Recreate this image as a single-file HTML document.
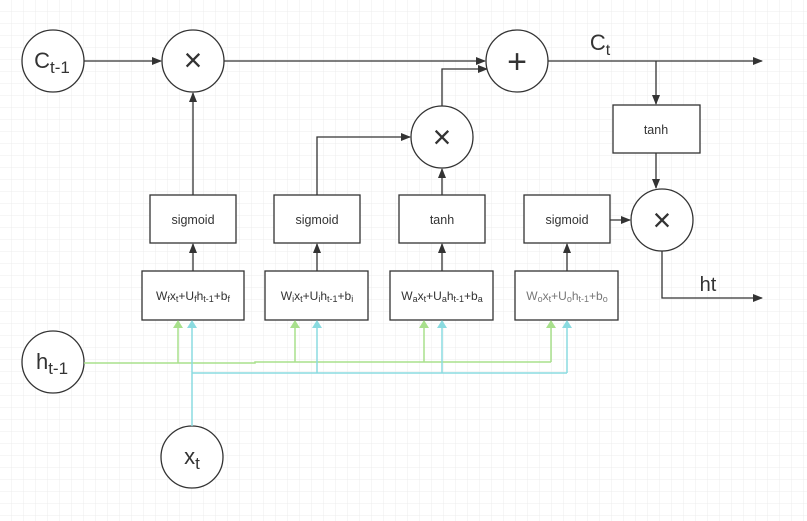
<!DOCTYPE html>
<html><head><meta charset="utf-8"><style>
body{margin:0;background:#fff;}
svg{display:block;font-family:"Liberation Sans",sans-serif;}
</style></head><body>
<svg width="807" height="521" viewBox="0 0 807 521">
<defs>
<pattern id="g" width="12" height="12" patternUnits="userSpaceOnUse"><path d="M12 0V12H0" fill="none" stroke="#ececec" stroke-width="1"/></pattern>
<marker id="a" markerWidth="10" markerHeight="8" refX="9" refY="4" orient="auto" markerUnits="userSpaceOnUse"><path d="M0 0L10 4L0 8z" fill="#333"/></marker>
<marker id="ag" markerWidth="8" markerHeight="10" refX="7" refY="5" orient="auto" markerUnits="userSpaceOnUse"><path d="M0 0L8 5L0 10z" fill="#a8e08c"/></marker>
<marker id="ac" markerWidth="8" markerHeight="10" refX="7" refY="5" orient="auto" markerUnits="userSpaceOnUse"><path d="M0 0L8 5L0 10z" fill="#8adbe0"/></marker>
</defs>
<rect width="807" height="521" fill="url(#g)"/>
<g fill="none" stroke="#333" stroke-width="1.3">
<line x1="84" y1="61" x2="161" y2="61" marker-end="url(#a)"/>
<line x1="224" y1="61" x2="485" y2="61" marker-end="url(#a)"/>
<line x1="548" y1="61" x2="762" y2="61" marker-end="url(#a)"/>
<line x1="656" y1="61" x2="656" y2="104" marker-end="url(#a)"/>
<line x1="656" y1="153" x2="656" y2="188" marker-end="url(#a)"/>
<polyline points="662,251 662,298 762,298" marker-end="url(#a)"/>
<line x1="193" y1="195" x2="193" y2="93" marker-end="url(#a)"/>
<polyline points="317,195 317,137 410,137" marker-end="url(#a)"/>
<line x1="442" y1="195" x2="442" y2="169" marker-end="url(#a)"/>
<polyline points="442,106 442,69 487,69" marker-end="url(#a)"/>
<line x1="610" y1="220" x2="630" y2="220" marker-end="url(#a)"/>
<line x1="193" y1="271" x2="193" y2="244" marker-end="url(#a)"/>
<line x1="317" y1="271" x2="317" y2="244" marker-end="url(#a)"/>
<line x1="442" y1="271" x2="442" y2="244" marker-end="url(#a)"/>
<line x1="567" y1="271" x2="567" y2="244" marker-end="url(#a)"/>
</g>
<g fill="#fff" stroke="#333" stroke-width="1.3">
<circle cx="53" cy="61" r="31"/><circle cx="193" cy="61" r="31"/><circle cx="517" cy="61" r="31"/>
<circle cx="442" cy="137" r="31"/><circle cx="662" cy="220" r="31"/>
<circle cx="53" cy="362" r="31"/><circle cx="192" cy="457" r="31"/>
<rect x="150" y="195" width="86" height="48"/><rect x="274" y="195" width="86" height="48"/>
<rect x="399" y="195" width="86" height="48"/><rect x="524" y="195" width="86" height="48"/>
<rect x="613" y="105" width="87" height="48"/>
<rect x="142" y="271" width="102" height="49"/><rect x="265" y="271" width="103" height="49"/>
<rect x="390" y="271" width="103" height="49"/><rect x="515" y="271" width="103" height="49"/>
</g>
<g fill="none" stroke-width="1.5">
<polyline points="84,363 255,363 255,362 551,362" stroke="#a8e08c"/>
<line x1="178" y1="363" x2="178" y2="321" stroke="#a8e08c" marker-end="url(#ag)"/>
<line x1="295" y1="362" x2="295" y2="321" stroke="#a8e08c" marker-end="url(#ag)"/>
<line x1="424" y1="362" x2="424" y2="321" stroke="#a8e08c" marker-end="url(#ag)"/>
<line x1="551" y1="362" x2="551" y2="321" stroke="#a8e08c" marker-end="url(#ag)"/>
<line x1="192" y1="426" x2="192" y2="321" stroke="#8adbe0" marker-end="url(#ac)"/>
<polyline points="192,373 567,373" stroke="#8adbe0"/>
<line x1="317" y1="373" x2="317" y2="321" stroke="#8adbe0" marker-end="url(#ac)"/>
<line x1="442" y1="373" x2="442" y2="321" stroke="#8adbe0" marker-end="url(#ac)"/>
<line x1="567" y1="373" x2="567" y2="321" stroke="#8adbe0" marker-end="url(#ac)"/>
</g>
<g fill="#333" text-anchor="middle">
<text x="52" y="68" font-size="22">C<tspan font-size="17" dy="5">t-1</tspan></text>
<text x="52" y="369" font-size="22">h<tspan font-size="17" dy="5">t-1</tspan></text>
<text x="192" y="464" font-size="22">x<tspan font-size="17" dy="5">t</tspan></text>
<text x="193" y="71" font-size="32">×</text>
<text x="442" y="148" font-size="32">×</text>
<text x="662" y="231" font-size="32">×</text>
<text x="517" y="73" font-size="34">+</text>
<text x="600" y="50" font-size="22">C<tspan font-size="16" dy="5">t</tspan></text>
<text x="708" y="291" font-size="20">ht</text>
<g font-size="12.5">
<text x="193" y="224">sigmoid</text><text x="317" y="224">sigmoid</text>
<text x="442" y="224">tanh</text><text x="567" y="224">sigmoid</text>
<text x="656" y="134">tanh</text>
</g>
<g font-size="12">
<text x="193" y="300">W<tspan font-size="9" dy="2">f</tspan><tspan dy="-2">x</tspan><tspan font-size="9" dy="2">t</tspan><tspan dy="-2">+U</tspan><tspan font-size="9" dy="2">f</tspan><tspan dy="-2">h</tspan><tspan font-size="9" dy="2">t-1</tspan><tspan dy="-2">+b</tspan><tspan font-size="9" dy="2">f</tspan></text>
<text x="317" y="300">W<tspan font-size="9" dy="2">i</tspan><tspan dy="-2">x</tspan><tspan font-size="9" dy="2">t</tspan><tspan dy="-2">+U</tspan><tspan font-size="9" dy="2">i</tspan><tspan dy="-2">h</tspan><tspan font-size="9" dy="2">t-1</tspan><tspan dy="-2">+b</tspan><tspan font-size="9" dy="2">i</tspan></text>
<text x="442" y="300">W<tspan font-size="9" dy="2">a</tspan><tspan dy="-2">x</tspan><tspan font-size="9" dy="2">t</tspan><tspan dy="-2">+U</tspan><tspan font-size="9" dy="2">a</tspan><tspan dy="-2">h</tspan><tspan font-size="9" dy="2">t-1</tspan><tspan dy="-2">+b</tspan><tspan font-size="9" dy="2">a</tspan></text>
<text x="567" y="300" fill="#777">W<tspan font-size="9" dy="2">o</tspan><tspan dy="-2">x</tspan><tspan font-size="9" dy="2">t</tspan><tspan dy="-2">+U</tspan><tspan font-size="9" dy="2">o</tspan><tspan dy="-2">h</tspan><tspan font-size="9" dy="2">t-1</tspan><tspan dy="-2">+b</tspan><tspan font-size="9" dy="2">o</tspan></text>
</g>
</g>
</svg>
</body></html>
